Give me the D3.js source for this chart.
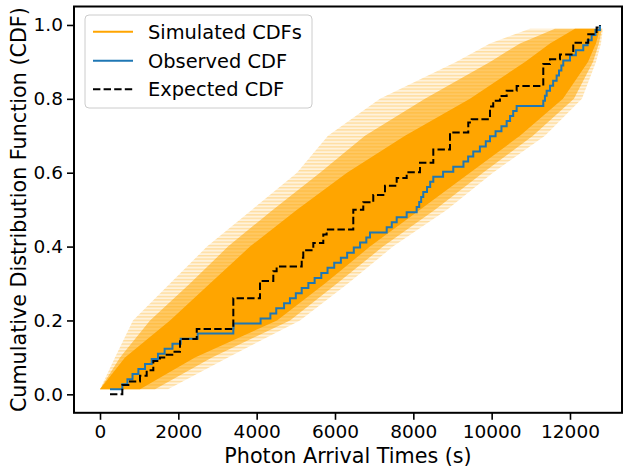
<!DOCTYPE html>
<html><head><meta charset="utf-8">
<script src="https://cdn.jsdelivr.net/npm/d3@7"></script>
<style>
html,body{margin:0;padding:0;background:#fff;}
svg{display:block;font-family:"DejaVu Sans",sans-serif;}
</style></head>
<body><svg id="c" width="623" height="471"></svg>
<script>
// ---------------- data ----------------
const xTicks = [0, 2000, 4000, 6000, 8000, 10000, 12000];
const yTicks = [0.0, 0.2, 0.4, 0.6, 0.8, 1.0];
const seriesNames = ["Simulated CDFs", "Observed CDF", "Expected CDF"];

// CDF levels at which the spread of the simulated CDFs is read
const simLevels = [0.0137, 0.1, 0.2, 0.3, 0.4, 0.5, 0.6, 0.7, 0.8, 0.9, 0.95, 0.99];
// outer envelope (faint fringe) of simulated CDFs
const simOuterLeft  = [0, 383, 842, 1787, 2732, 3881, 5029, 5821, 7148, 9089, 9957, 10978];
const simOuterRight = [1736, 3268, 5106, 6331, 7480, 8859, 10033, 11361, 12305, 12663, 12791, 12842];
// middle density band
const simMidLeft  = [0, 511, 1277, 2298, 3268, 4417, 5617, 6765, 8297, 9957, 10723, 11616];
const simMidRight = [1404, 2859, 4851, 6051, 7225, 8553, 9778, 11054, 12101, 12586, 12739, 12816];
// dense core
const simCoreLeft  = [0, 638, 1787, 2808, 3830, 5029, 6306, 7787, 9446, 10850, 11489, 12127];
const simCoreRight = [1021, 2425, 4519, 5744, 6893, 8170, 9446, 10723, 11820, 12459, 12663, 12765];

// observed photon arrival times (s), sorted
const obsTimes = [255, 570, 700, 830, 980, 1150, 1320, 1480, 1650, 1850, 2060, 2494, 3404, 3410,
  4100, 4350, 4500, 4700, 4850, 5000, 5150, 5320, 5480, 5650, 5810, 5980, 6150, 6310, 6480,
  6640, 6800, 6893, 7320, 7450, 7575, 7830, 8085, 8150, 8200, 8254, 8350, 8430, 8510, 8760,
  9020, 9280, 9400, 9530, 9700, 9850, 9957, 10100, 10250, 10383, 10470, 10550, 10638, 11318,
  11360, 11404, 11490, 11570, 11659, 11720, 11780, 11828, 12000, 12150, 12339, 12450, 12553,
  12650, 12765];

// expected CDF (step points)
const expX = [255, 570, 766, 1021, 1192, 1361, 1532, 1703, 1871, 2042, 2470, 3404, 4085, 4425,
  4510, 5150, 5190, 5446, 5701, 5787, 6467, 6722, 6977, 7276, 7575, 7830, 8170, 8510, 8936,
  9403, 9490, 9957, 10040, 10212, 10383, 10638, 11318, 11489, 11744, 12083, 12466, 12680, 12765];
const expY = [0.0, 0.025, 0.035, 0.05, 0.065, 0.09, 0.1, 0.107, 0.115, 0.15, 0.177, 0.26, 0.307, 0.333,
  0.346, 0.37, 0.39, 0.41, 0.433, 0.446, 0.5, 0.52, 0.54, 0.565, 0.586, 0.601, 0.627, 0.663, 0.709,
  0.736, 0.745, 0.779, 0.795, 0.808, 0.822, 0.835, 0.894, 0.907, 0.92, 0.952, 0.975, 0.993, 1.0];

// ---------------- chart ----------------
const svg = d3.select("#c");
const L = 74, R = 622, T = 6.5, B = 412.8;
const x = d3.scaleLinear().domain([-664, 13328]).range([L, R]);
const y = d3.scaleLinear().domain([-0.05, 1.05]).range([B, T]);
const ORANGE = "#ffa500", BLUE = "#1f77b4";

const defs = svg.append("defs");
defs.append("clipPath").attr("id", "clip")
  .append("rect").attr("x", L).attr("y", T).attr("width", R - L).attr("height", B - T);
// streaky texture that mimics many overlapping translucent step lines
const pat = defs.append("pattern").attr("id", "streaks").attr("patternUnits", "userSpaceOnUse")
  .attr("width", 20).attr("height", 3.4);
pat.append("rect").attr("width", 20).attr("height", 3.4).attr("fill", ORANGE).attr("fill-opacity", 0.14);
pat.append("rect").attr("width", 20).attr("height", 1.4).attr("fill", ORANGE).attr("fill-opacity", 0.28);

const plot = svg.append("g").attr("clip-path", "url(#clip)");

function band(lefts, rights) {
  return simLevels.map((lv, i) => ({lv, l: lefts[i], r: rights[i]}));
}
const area = d3.area().y(d => y(d.lv)).x0(d => x(d.l)).x1(d => x(d.r));
plot.append("path").datum(band(simOuterLeft, simOuterRight)).attr("d", area)
  .attr("fill", "url(#streaks)");
plot.append("path").datum(band(simMidLeft, simMidRight)).attr("d", area)
  .attr("fill", ORANGE).attr("fill-opacity", 0.55);
plot.append("path").datum(band(simCoreLeft, simCoreRight)).attr("d", area)
  .attr("fill", ORANGE).attr("fill-opacity", 1);

const N = obsTimes.length;
const obsPts = obsTimes.map((t, i) => [t, (i + 1) / N]);
const step = d3.line().curve(d3.curveStepAfter).x(d => x(d[0])).y(d => y(d[1]));
plot.append("path").datum(obsPts).attr("d", step)
  .attr("fill", "none").attr("stroke", BLUE).attr("stroke-width", 2);

const expPts = expX.map((t, i) => [t, expY[i]]);
plot.append("path").datum(expPts).attr("d", step)
  .attr("fill", "none").attr("stroke", "#000").attr("stroke-width", 2)
  .attr("stroke-dasharray", "7.4,3.2");

// axes
const fmtX = d3.format("d"), fmtY = d3.format(".1f");
const xAxis = svg.append("g").attr("transform", `translate(0,${B})`)
  .call(d3.axisBottom(x).tickValues(xTicks).tickFormat(fmtX).tickSize(7).tickPadding(5));
const yAxis = svg.append("g").attr("transform", `translate(${L},0)`)
  .call(d3.axisLeft(y).tickValues(yTicks).tickFormat(fmtY).tickSize(7).tickPadding(4));
[xAxis, yAxis].forEach(a => {
  a.select(".domain").remove();
  a.selectAll(".tick line").attr("stroke", "#000").attr("stroke-width", 1.6);
  a.selectAll(".tick text").attr("fill", "#000").style("font-size", "18.5px")
    .style("font-family", "DejaVu Sans");
});

svg.append("rect").attr("x", L).attr("y", T).attr("width", R - L).attr("height", B - T)
  .attr("fill", "none").attr("stroke", "#000").attr("stroke-width", 2);

svg.append("text").attr("x", (L + R) / 2).attr("y", 463).attr("text-anchor", "middle")
  .style("font-size", "20.7px").text("Photon Arrival Times (s)");
svg.append("text").attr("transform", `translate(26,${(T + B) / 2}) rotate(-90)`)
  .attr("text-anchor", "middle").style("font-size", "20.7px")
  .text("Cumulative Distribution Function (CDF)");

// legend
const lg = svg.append("g");
lg.append("rect").attr("x", 85).attr("y", 15).attr("width", 227).attr("height", 93).attr("rx", 4)
  .attr("fill", "#fff").attr("fill-opacity", 0.8).attr("stroke", "#cccccc").attr("stroke-width", 1);
const legendRows = [
  {name: seriesNames[0], color: ORANGE, dash: null, ly: 31.7},
  {name: seriesNames[1], color: BLUE, dash: null, ly: 60.7},
  {name: seriesNames[2], color: "#000", dash: "7.4,3.2", ly: 89.3}
];
legendRows.forEach(r => {
  lg.append("line").attr("x1", 93).attr("x2", 133).attr("y1", r.ly).attr("y2", r.ly)
    .attr("stroke", r.color).attr("stroke-width", 2).attr("stroke-dasharray", r.dash);
  lg.append("text").attr("x", 148).attr("y", r.ly + 7).style("font-size", "19.4px").text(r.name);
});
</script></body></html>
